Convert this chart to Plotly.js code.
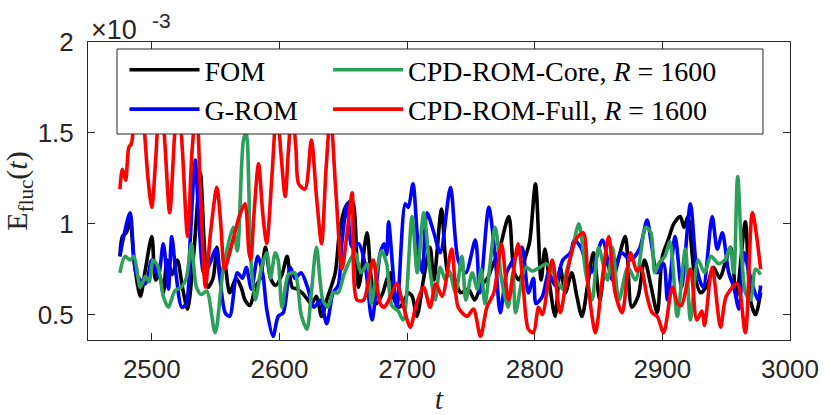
<!DOCTYPE html>
<html>
<head>
<meta charset="utf-8">
<script src="https://cdn.plot.ly/plotly-3.0.1.min.js"></script>
<style>
  html, body { margin: 0; padding: 0; background: #fff; }
  #chart { width: 830px; height: 415px; }
</style>
</head>
<body>
<div id="chart"></div>
<script>
// E_fluc(t) for FOM and the ROMs, values in units of 1e-3

const tFom = [2475, 2477, 2480, 2483, 2486, 2491, 2495, 2500, 2503, 2506, 2509, 2512, 2516, 2520, 2524, 2528, 2533, 2538, 2541, 2544, 2548, 2551, 2554, 2557, 2561, 2566, 2570, 2573, 2577, 2581, 2585, 2589, 2593, 2597, 2602, 2606, 2610, 2614, 2619, 2625, 2629, 2633, 2637, 2643.7, 2647, 2651.6, 2657, 2662, 2668.6, 2672, 2676, 2681, 2684, 2687, 2690, 2694, 2698, 2701, 2704, 2707.7, 2713, 2718, 2721, 2727, 2732, 2737, 2742, 2748, 2753, 2758, 2763, 2767, 2772, 2779.7, 2784, 2788, 2792, 2796, 2800.6, 2805, 2808, 2812, 2816, 2820, 2824, 2829, 2833, 2837, 2842, 2846, 2851, 2856, 2861, 2866, 2871, 2876, 2881, 2886, 2891, 2896, 2900, 2905, 2909, 2914, 2917, 2920, 2925, 2930, 2935, 2940, 2945, 2949, 2953.5, 2958, 2965, 2969, 2973, 2977];
const eFom = [0.82, 0.93, 0.95, 1.02, 0.80, 0.60, 0.75, 0.93, 0.69, 0.72, 0.62, 0.80, 0.72, 0.80, 0.65, 0.53, 0.85, 1.28, 0.90, 0.65, 0.70, 0.87, 0.70, 0.78, 0.62, 0.70, 0.65, 0.58, 0.55, 0.65, 0.70, 0.87, 0.70, 0.66, 0.72, 0.82, 0.65, 0.64, 0.61, 0.56, 0.60, 0.49, 0.58, 0.73, 0.95, 1.09, 1.13, 0.65, 0.95, 0.69, 0.56, 0.62, 0.69, 0.73, 0.58, 0.54, 0.58, 0.62, 0.60, 0.49, 0.70, 0.87, 0.69, 1.08, 0.73, 0.70, 0.62, 0.64, 0.58, 0.66, 0.70, 0.77, 0.85, 1.04, 0.73, 0.69, 0.80, 0.90, 1.22, 0.69, 0.86, 0.65, 0.49, 0.76, 0.62, 0.73, 0.60, 0.49, 0.69, 0.84, 0.58, 0.80, 0.72, 0.82, 0.93, 0.54, 0.60, 0.80, 0.66, 0.51, 0.82, 0.92, 1.00, 1.04, 0.98, 1.04, 0.73, 0.62, 0.66, 0.76, 0.70, 0.78, 0.87, 0.60, 1.01, 0.58, 0.50, 0.62];

const tGrom = [2475, 2478, 2483, 2488, 2495, 2500, 2505, 2509, 2513, 2515.6, 2519, 2523.5, 2527, 2530, 2534, 2537, 2541, 2546, 2550, 2553, 2557.5, 2561, 2567, 2571, 2574, 2578, 2583, 2587, 2590, 2595, 2599, 2603, 2608.5, 2612, 2617, 2622, 2627, 2632, 2637, 2642, 2646, 2649, 2653, 2657, 2662, 2667, 2672.5, 2679, 2682, 2684, 2685.5, 2692, 2698.6, 2701, 2704.6, 2709, 2712, 2715.6, 2721, 2726, 2734, 2740, 2746, 2753.5, 2757, 2764, 2769, 2773, 2778, 2783, 2787, 2790, 2795, 2799, 2801, 2806, 2811, 2816, 2822, 2828, 2831, 2836, 2844, 2853, 2861, 2868, 2875, 2882, 2888, 2891, 2896, 2901, 2904, 2910, 2915, 2922, 2927, 2932, 2939, 2943, 2947, 2952, 2956, 2960, 2964, 2968, 2975, 2977];
const eGrom = [0.82, 0.93, 1.06, 0.72, 0.67, 0.80, 0.71, 0.89, 0.64, 0.93, 0.72, 0.54, 0.56, 0.90, 1.35, 1.00, 0.72, 0.79, 0.86, 0.72, 0.51, 0.49, 0.73, 0.70, 0.76, 0.64, 0.82, 0.72, 0.53, 0.38, 0.49, 0.51, 0.76, 0.70, 0.73, 0.65, 0.54, 0.58, 0.45, 0.62, 0.66, 0.90, 1.11, 0.87, 0.89, 0.78, 0.47, 0.84, 0.89, 0.83, 1.01, 0.54, 1.11, 1.09, 1.22, 0.84, 0.73, 1.06, 0.95, 0.84, 1.20, 0.80, 0.73, 0.91, 0.62, 1.09, 0.82, 0.51, 0.73, 0.80, 0.84, 0.87, 0.62, 0.70, 0.56, 0.60, 0.73, 0.66, 0.80, 0.84, 0.91, 0.87, 0.73, 0.91, 0.69, 0.84, 0.80, 0.86, 1.02, 0.91, 0.73, 0.78, 0.58, 0.93, 0.65, 1.11, 0.75, 0.65, 1.04, 0.86, 0.95, 0.73, 0.65, 0.53, 0.84, 0.73, 0.58, 0.66];

const tCore = [2475, 2479, 2483, 2486, 2491, 2495, 2498, 2501, 2505, 2509, 2513, 2518, 2523, 2527, 2531, 2535, 2539, 2543, 2549.6, 2556, 2563.7, 2567, 2571.8, 2574, 2576, 2577, 2581, 2586, 2590, 2593, 2596.7, 2599, 2602, 2607, 2612, 2617, 2621.5, 2625, 2629, 2634, 2638, 2642, 2646, 2651, 2659, 2664, 2669, 2672, 2676, 2680, 2684, 2688, 2693, 2697, 2703.9, 2708, 2713, 2718, 2722, 2726, 2730, 2733, 2738, 2743, 2746, 2751, 2755, 2758, 2761, 2769, 2774, 2779, 2783, 2785, 2793, 2798, 2804, 2809, 2814, 2817, 2822, 2825, 2829, 2834.6, 2840, 2845, 2850, 2857, 2861, 2866, 2873, 2879, 2887, 2891, 2894, 2897, 2902, 2906, 2911.7, 2918, 2922, 2928, 2933, 2938, 2944, 2949, 2953, 2956, 2959, 2965, 2969, 2973, 2977];
const eCore = [0.73, 0.82, 0.80, 0.82, 0.65, 0.71, 0.68, 0.80, 0.76, 0.60, 0.54, 0.63, 0.65, 0.70, 0.89, 0.65, 0.61, 0.63, 0.40, 0.75, 0.98, 0.85, 1.46, 1.50, 1.20, 0.87, 0.58, 0.76, 0.84, 0.70, 0.84, 0.80, 0.54, 0.72, 0.73, 0.50, 0.42, 0.62, 0.87, 0.58, 0.54, 0.62, 0.62, 0.73, 0.84, 0.73, 0.78, 0.56, 0.73, 0.85, 0.78, 0.55, 0.52, 0.47, 1.04, 0.73, 1.06, 0.74, 0.58, 0.76, 0.69, 0.74, 0.62, 0.82, 0.58, 0.73, 0.64, 0.75, 0.56, 0.98, 0.69, 0.54, 0.73, 0.51, 0.76, 0.74, 0.76, 0.78, 0.74, 0.69, 0.64, 0.74, 0.84, 1.00, 0.73, 0.58, 0.87, 0.69, 0.87, 0.58, 0.76, 0.69, 0.98, 0.95, 0.73, 0.78, 0.82, 0.90, 0.49, 0.86, 0.47, 0.80, 0.73, 0.82, 0.78, 0.80, 0.87, 0.73, 1.26, 0.62, 0.58, 0.75, 0.72];

const tFull = [2475, 2477, 2479.5, 2482, 2484, 2487, 2490, 2493, 2497, 2500, 2503, 2506, 2509, 2514, 2518, 2521, 2524, 2528, 2531.5, 2535, 2538, 2542, 2546, 2551, 2554, 2557, 2561, 2565, 2569, 2573, 2576, 2577.5, 2580, 2583.6, 2587, 2590, 2594, 2598, 2601, 2604.5, 2607, 2610, 2613, 2615, 2620, 2625, 2629, 2633, 2636.5, 2640, 2644, 2649, 2653, 2657, 2660.7, 2666, 2670, 2673.5, 2679, 2682, 2685, 2688, 2692, 2697, 2702.5, 2707, 2713, 2718, 2722.5, 2727.5, 2735, 2740, 2747, 2752, 2757.5, 2762.5, 2768, 2774, 2779.5, 2787, 2791, 2795, 2799, 2803, 2806, 2813.7, 2820, 2826, 2832, 2838, 2842, 2847.6, 2853, 2858, 2863, 2868.5, 2875, 2880, 2883, 2888, 2892, 2896, 2901, 2907.8, 2912, 2915, 2922, 2927, 2931, 2933, 2939, 2945.6, 2950, 2958.7, 2965, 2970.5, 2977];
const eFull = [1.19, 1.30, 1.24, 1.42, 1.44, 1.62, 1.70, 1.60, 1.25, 1.09, 1.35, 1.65, 1.55, 1.06, 1.50, 1.68, 1.40, 0.93, 1.40, 1.65, 1.20, 0.65, 0.95, 1.20, 1.00, 0.75, 0.84, 0.95, 1.05, 1.11, 0.85, 0.80, 1.05, 1.33, 1.05, 0.89, 1.25, 1.65, 1.40, 1.15, 1.40, 1.65, 1.40, 1.22, 1.19, 1.46, 1.15, 0.89, 1.30, 1.60, 1.20, 0.75, 0.95, 1.17, 0.58, 0.58, 0.70, 0.80, 0.56, 0.54, 0.57, 0.62, 0.67, 0.55, 0.43, 0.55, 0.65, 0.54, 0.67, 0.60, 0.86, 0.54, 0.49, 0.53, 0.38, 0.54, 0.62, 0.89, 0.58, 0.89, 0.65, 0.42, 0.40, 0.54, 0.50, 0.80, 0.51, 0.75, 0.91, 0.95, 0.65, 0.40, 0.70, 0.93, 0.62, 0.51, 0.84, 0.74, 0.76, 0.60, 0.51, 0.49, 0.40, 0.65, 0.56, 0.55, 0.75, 0.47, 0.52, 0.44, 0.76, 0.43, 0.60, 0.67, 0.40, 1.06, 0.75];

const xTicks = [2500, 2600, 2700, 2800, 2900, 3000];
const yTicks = [0.5, 1, 1.5, 2];
const yTickText = ['0.5', '1', '1.5', '2'];

const axisColor = '#262626';
const sans = 'Liberation Sans, Arial, sans-serif';
const serif = 'Liberation Serif, Times New Roman, serif';

function series(t, e, name, color, legend) {
    return {
        x: t,
        y: e,
        name: name,
        type: 'scatter',
        mode: 'lines',
        line: { color: color, width: 3.6, shape: 'spline', smoothing: 0.8 },
        legend: legend,
        hoverinfo: 'skip'
    };
}

const data = [
    series(tFom, eFom, 'FOM', '#000000', 'legend'),
    series(tGrom, eGrom, 'G-ROM', '#0000ff', 'legend'),
    series(tCore, eCore, 'CPD-ROM-Core, <i>R</i> = 1600', 'rgb(44,160,90)', 'legend2'),
    series(tFull, eFull, 'CPD-ROM-Full, <i>R</i> = 1600', '#ff0000', 'legend2')
];

const axisBase = {
    showgrid: false,
    zeroline: false,
    showline: true,
    linecolor: axisColor,
    linewidth: 1,
    mirror: 'ticks',
    ticks: 'inside',
    ticklen: 7,
    tickwidth: 1,
    tickcolor: axisColor,
    tickfont: { family: sans, size: 26, color: axisColor }
};

const legendBase = {
    bgcolor: 'rgba(0,0,0,0)',
    borderwidth: 0,
    xanchor: 'left',
    yanchor: 'top',
    y: 0.99,
    itemwidth: 70,
    tracegroupgap: 0,
    font: { family: serif, size: 28, color: '#000' }
};

const layout = {
    width: 830,
    height: 415,
    margin: { l: 88, r: 40, t: 42, b: 75 },
    paper_bgcolor: '#fff',
    plot_bgcolor: '#fff',
    showlegend: true,
    xaxis: Object.assign({}, axisBase, {
        range: [2450, 3000],
        tickvals: xTicks,
        ticklabelstandoff: 6,
        title: { text: '<i>t</i>', font: { family: serif, size: 30, color: axisColor }, standoff: 6 }
    }),
    yaxis: Object.assign({}, axisBase, {
        range: [0.36, 2],
        tickvals: yTicks,
        ticktext: yTickText,
        ticklabelstandoff: 8,
        title: { text: 'E<sub>fluc</sub>(<i>t</i>)', font: { family: serif, size: 30, color: axisColor }, standoff: 16 }
    }),
    legend: Object.assign({}, legendBase, { x: 0.052 }),
    legend2: Object.assign({}, legendBase, { x: 0.342 }),
    shapes: [{
        type: 'rect', xref: 'paper', yref: 'paper',
        x0: 0.0413, x1: 0.9615, y0: 0.6913, y1: 0.9765,
        line: { color: axisColor, width: 1 },
        fillcolor: '#fff',
        layer: 'above'
    }],
    annotations: [{
        xref: 'paper', yref: 'paper', x: 0, y: 1,
        xanchor: 'left', yanchor: 'bottom', xshift: 1, yshift: -5,
        showarrow: false,
        text: '\u00d710',
        font: { family: sans, size: 27, color: axisColor }
    }, {
        xref: 'paper', yref: 'paper', x: 0, y: 1,
        xanchor: 'left', yanchor: 'bottom', xshift: 62, yshift: 8,
        showarrow: false,
        text: '-3',
        font: { family: sans, size: 21, color: axisColor }
    }]
};

Plotly.newPlot('chart', data, layout, { displayModeBar: false, staticPlot: true });
</script>
</body>
</html>
